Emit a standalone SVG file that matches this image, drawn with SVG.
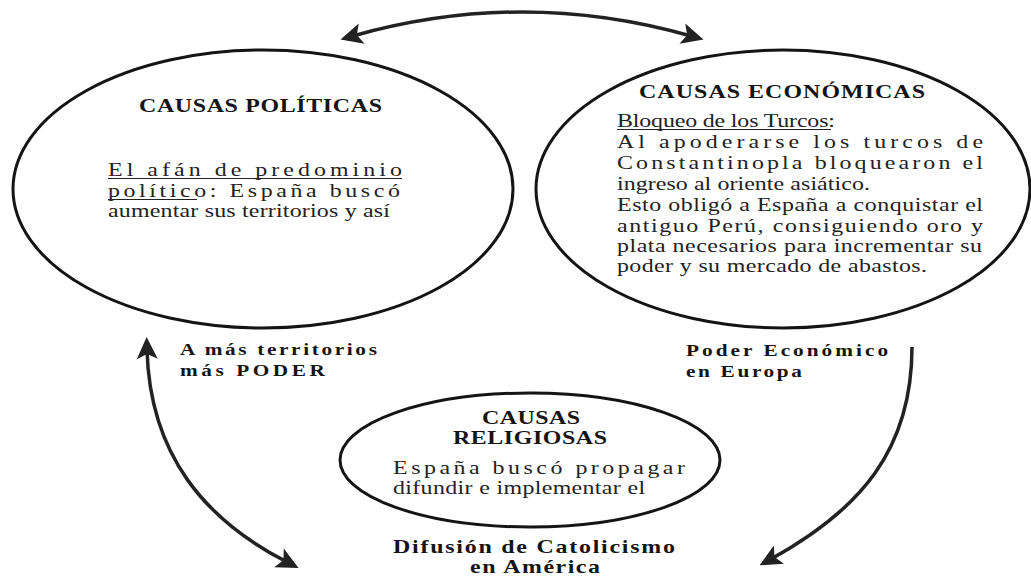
<svg xmlns="http://www.w3.org/2000/svg" width="1031" height="576" viewBox="0 0 1031 576">
<defs>
<style>
.node{fill:none;stroke:#141414;stroke-width:3}
.title{font-family:"Liberation Serif","Times New Roman",serif;font-weight:bold;font-size:18px;fill:#141414}
.lbl{font-family:"Liberation Serif","Times New Roman",serif;font-weight:bold;font-size:16px;fill:#141414}
.big{font-family:"Liberation Serif","Times New Roman",serif;font-weight:bold;font-size:18px;fill:#141414}
.body{font-family:"Liberation Serif","Times New Roman",serif;font-size:18px;fill:#222}
.ul{stroke:#222;stroke-width:1}
.conn{fill:none;stroke:#222;stroke-width:3.5;marker-end:url(#ah)}
</style>
<marker id="ah" markerUnits="userSpaceOnUse" markerWidth="40" markerHeight="40" refX="0" refY="0" orient="auto-start-reverse" overflow="visible">
<path d="M13,0 L-9,-10.5 L-4,0 L-9,10.5 Z" fill="#222"/>
</marker>
</defs>
<rect width="1031" height="576" fill="#fff"/>

<g id="connectors">
<path class="conn" d="M353,36 Q522,-12 691,36" marker-start="url(#ah)"/>
<path class="conn" d="M147,350 C150,455 205,520 287,562" marker-start="url(#ah)"/>
<path class="conn" d="M912,347 C912,450 860,510 771,559"/>
</g>

<g id="politicas">
<ellipse class="node" cx="263" cy="189" rx="250" ry="139"/>
<line class="ul" x1="108" y1="178.5" x2="402" y2="178.5"/>
<line class="ul" x1="108" y1="199.5" x2="197" y2="199.5"/>
<g transform="scale(1.33,1)">
<text class="title" x="104.5" y="112" textLength="182.7" lengthAdjust="spacing">CAUSAS POLÍTICAS</text>
<text class="body" x="81.2" y="176" textLength="221" lengthAdjust="spacing">El afán de predominio</text>
<text class="body" x="81.2" y="197" textLength="219.5" lengthAdjust="spacing">político: España buscó</text>
<text class="body" x="81.2" y="217" textLength="212" lengthAdjust="spacing">aumentar sus territorios y así</text>
</g>
</g>

<g id="economicas">
<ellipse class="node" cx="783" cy="189" rx="247" ry="139"/>
<line class="ul" x1="617" y1="129.5" x2="831" y2="129.5"/>
<g transform="scale(1.33,1)">
<text class="title" x="480.5" y="98" textLength="215" lengthAdjust="spacing">CAUSAS ECONÓMICAS</text>
<text class="body" x="463.9" y="127" textLength="163.9" lengthAdjust="spacing">Bloqueo de los Turcos:</text>
<text class="body" x="463.9" y="148" textLength="275.2" lengthAdjust="spacing">Al apoderarse los turcos de</text>
<text class="body" x="463.9" y="169" textLength="275.2" lengthAdjust="spacing">Constantinopla bloquearon el</text>
<text class="body" x="463.9" y="190" textLength="190.2" lengthAdjust="spacing">ingreso al oriente asiático.</text>
<text class="body" x="463.9" y="211" textLength="275.2" lengthAdjust="spacing">Esto obligó a España a conquistar el</text>
<text class="body" x="463.9" y="232" textLength="275.2" lengthAdjust="spacing">antiguo Perú, consiguiendo oro y</text>
<text class="body" x="463.9" y="252" textLength="274.4" lengthAdjust="spacing">plata necesarios para incrementar su</text>
<text class="body" x="463.9" y="272" textLength="233.1" lengthAdjust="spacing">poder y su mercado de abastos.</text>
</g>
</g>

<g id="religiosas">
<ellipse class="node" cx="530" cy="460" rx="190" ry="67"/>
<g transform="scale(1.33,1)">
<text class="title" x="362.4" y="424" textLength="73.7" lengthAdjust="spacing">CAUSAS</text>
<text class="title" x="340.6" y="444" textLength="115.8" lengthAdjust="spacing">RELIGIOSAS</text>
<text class="body" x="295.5" y="474" textLength="219.5" lengthAdjust="spacing">España buscó propagar</text>
<text class="body" x="295.5" y="494" textLength="189.5" lengthAdjust="spacing">difundir e implementar el</text>
</g>
</g>

<g id="label-politicas" transform="scale(1.33,1)">
<text class="lbl" x="135.3" y="355" textLength="148.1" lengthAdjust="spacing">A más territorios</text>
<text class="lbl" x="135.3" y="376" textLength="109" lengthAdjust="spacing">más PODER</text>
</g>

<g id="label-economicas" transform="scale(1.33,1)">
<text class="lbl" x="515.8" y="356" textLength="151.9" lengthAdjust="spacing">Poder Económico</text>
<text class="lbl" x="515.8" y="377" textLength="87.2" lengthAdjust="spacing">en Europa</text>
</g>

<g id="label-religiosas" transform="scale(1.33,1)">
<text class="big" x="295.5" y="553" textLength="212" lengthAdjust="spacing">Difusión de Catolicismo</text>
<text class="big" x="353.4" y="573.5" textLength="97.7" lengthAdjust="spacing">en América</text>
</g>
</svg>
